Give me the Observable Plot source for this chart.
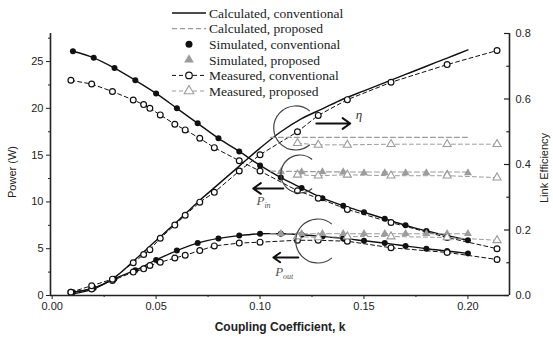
<!DOCTYPE html>
<html><head><meta charset="utf-8">
<script src="https://cdn.jsdelivr.net/npm/d3@7"></script>
<script src="https://cdn.jsdelivr.net/npm/@observablehq/plot@0.6"></script>
<style>body{margin:0;background:#fff}</style>
</head><body><div id="chart"></div>
<script>
// ---- data ----
const kCalc = [0.01,0.02,0.03,0.04,0.05,0.06,0.07,0.08,0.09,0.10,0.11,0.12,0.13,0.14,0.15,0.16,0.17,0.18,0.19,0.20];
const pinCalcConv  = [26.1,25.4,24.3,23.0,21.6,20.0,18.4,16.8,15.4,13.9,12.6,11.5,10.4,9.6,8.9,8.2,7.5,6.9,6.4,5.9];
const poutCalcConv = [0.35,0.8,1.8,2.7,3.8,4.8,5.6,6.1,6.4,6.6,6.6,6.5,6.3,6.1,5.85,5.6,5.3,5.0,4.75,4.5];
const etaCalcConv  = [0.005,0.02,0.055,0.11,0.168,0.225,0.285,0.34,0.395,0.45,0.50,0.54,0.57,0.60,0.625,0.65,0.675,0.70,0.725,0.75];

const kSim = [0.01,0.02,0.03,0.04,0.05,0.06,0.07,0.08,0.09,0.10,0.11,0.12,0.13,0.14,0.15,0.16,0.17,0.18,0.19,0.20];
const pinSimConv  = [26.1,25.4,24.3,23.0,21.6,20.0,18.4,16.8,15.4,13.9,12.6,11.5,10.4,9.6,8.9,8.2,7.5,6.9,6.4,5.9];
const poutSimConv = [0.35,0.8,1.8,2.7,3.8,4.8,5.6,6.1,6.4,6.6,6.6,6.5,6.3,6.1,5.85,5.6,5.3,5.0,4.75,4.5];

const kMeasConv = [0.009,0.019,0.029,0.039,0.044,0.047,0.052,0.059,0.064,0.071,0.078,0.09,0.10,0.118,0.128,0.142,0.163,0.19,0.214];
const pinMeasConv  = [23.0,22.6,21.8,20.9,20.4,20.0,19.3,18.3,17.7,16.8,15.8,14.4,13.3,11.2,10.4,9.2,7.8,6.2,5.0];
const poutMeasConv = [0.35,0.7,1.6,2.5,2.85,3.2,3.55,4.0,4.3,4.8,5.3,5.6,5.7,5.9,5.9,5.8,5.1,4.6,3.85];
const etaMeasConv  = [0.01,0.03,0.05,0.10,0.125,0.14,0.175,0.215,0.245,0.285,0.315,0.38,0.43,0.50,0.55,0.598,0.651,0.705,0.748];

const kCalcProp = [0.105,0.12,0.14,0.16,0.18,0.20];
const pinCalcProp  = [13.3,13.25,13.2,13.2,13.2,13.2];
const poutCalcProp = [6.6,6.6,6.6,6.6,6.6,6.6];
const etaCalcProp  = [0.483,0.483,0.483,0.483,0.483,0.483];

const kSimProp = [0.11,0.12,0.13,0.14,0.15,0.16,0.17,0.18,0.19,0.20];
const pinSimProp  = [13.2,13.2,13.2,13.2,13.1,13.1,13.1,13.1,13.0,13.1];
const poutSimProp = [6.6,6.6,6.6,6.6,6.6,6.6,6.6,6.6,6.6,6.6];

const kMeasProp = [0.118,0.128,0.142,0.163,0.19,0.214];
const pinMeasProp  = [12.9,12.8,12.9,12.8,12.8,12.6];
const poutMeasProp = [6.3,6.2,6.3,6.3,6.2,5.9];
const etaMeasProp  = [0.465,0.46,0.46,0.462,0.462,0.462];

const xTicks = [0, 0.05, 0.10, 0.15, 0.20];
const xMinor = [0.025, 0.075, 0.125, 0.175];
const yTicks = [0, 5, 10, 15, 20, 25];
const yMinor = [2.5, 7.5, 12.5, 17.5, 22.5, 27.5];
const etaTicks = [0, 0.2, 0.4, 0.6, 0.8];
const etaMinor = [0.1, 0.3, 0.5, 0.7];
const legendLabels = ["Calculated, conventional","Calculated, proposed","Simulated, conventional","Simulated, proposed","Measured, conventional","Measured, proposed"];

// ---- build tables ----
const X0 = -0.0008, X1 = 0.22, YMAX = 28, ETA = 28 / 0.8;
const tab = (ks, cols) => ks.map((k, i) => { const o = {k}; for (const [n, a] of Object.entries(cols)) o[n] = a[i]; return o; });
const calcConv = tab(kCalc, {pin: pinCalcConv, pout: poutCalcConv, eta: etaCalcConv});
const simConv = tab(kSim, {pin: pinSimConv, pout: poutSimConv});
const measConv = tab(kMeasConv, {pin: pinMeasConv, pout: poutMeasConv, eta: etaMeasConv});
const calcProp = tab(kCalcProp, {pin: pinCalcProp, pout: poutCalcProp, eta: etaCalcProp});
const simProp = tab(kSimProp, {pin: pinSimProp, pout: poutSimProp});
const measProp = tab(kMeasProp, {pin: pinMeasProp, pout: poutMeasProp, eta: etaMeasProp});

const BLACK = "#111", GRAY = "#9c9c9c", AX = "#222";
const eY = d => d.eta * ETA;

const seriesLines = [];
for (const f of ["pin", "pout", "eta"]) {
  const y = f === "eta" ? eY : f;
  seriesLines.push(Plot.line(calcConv, {x: "k", y, curve: "catmull-rom", stroke: BLACK, strokeWidth: 1.4}));
  seriesLines.push(Plot.line(measConv, {x: "k", y, stroke: BLACK, strokeWidth: 1, strokeDasharray: "4,3"}));
  seriesLines.push(Plot.line(calcProp, {x: "k", y, stroke: GRAY, strokeWidth: 1.2, strokeDasharray: "5,3"}));
  seriesLines.push(Plot.line(measProp, {x: "k", y, stroke: GRAY, strokeWidth: 1, strokeDasharray: "4,3"}));
}
const seriesDots = [];
for (const f of ["pin", "pout"]) {
  seriesDots.push(Plot.dot(simConv, {x: "k", y: f, r: 3, fill: BLACK, stroke: "none"}));
  seriesDots.push(Plot.dot(simProp, {x: "k", y: f, r: 3, symbol: "triangle", fill: GRAY, stroke: "none"}));
}
for (const f of ["pin", "pout", "eta"]) {
  const y = f === "eta" ? eY : f;
  seriesDots.push(Plot.dot(measConv, {x: "k", y, r: 2.9, fill: "white", stroke: BLACK, strokeWidth: 1.2}));
  seriesDots.push(Plot.dot(measProp, {x: "k", y, r: 3, symbol: "triangle", fill: "white", stroke: GRAY, strokeWidth: 1.1}));
}

// annotation arrows (data coordinates)
const arrows = [
  {x1: 0.1271, y1: 18.38, x2: 0.1434, y2: 18.38},
  {x1: 0.1112, y1: 11.44, x2: 0.0967, y2: 11.44},
  {x1: 0.1184, y1: 4.06, x2: 0.1064, y2: 4.06}
];

const plot = Plot.plot({
  width: 553, height: 339,
  marginLeft: 50, marginRight: 44, marginTop: 33, marginBottom: 44,
  style: {fontFamily: "'Liberation Sans', Arial, sans-serif", fontSize: "11px", background: "white", color: AX},
  x: {domain: [X0, X1]},
  y: {domain: [0, YMAX]},
  marks: [
    Plot.axisX({ticks: xTicks, tickFormat: d3.format(".2f"), tickSize: 4, tickPadding: 3, label: null, stroke: AX}),
    Plot.axisX({ticks: xMinor, tickSize: 2, tickFormat: () => "", label: null, stroke: AX}),
    Plot.axisY({ticks: yTicks, tickSize: 4, tickPadding: 3, label: null, stroke: AX, tickFormat: d => String(d)}),
    Plot.axisY({ticks: yMinor, tickSize: 2, tickFormat: () => "", label: null, stroke: AX}),
    Plot.axisY({anchor: "right", ticks: etaTicks.map(e => e * ETA), tickSize: 0, tickPadding: 6, label: null, tickFormat: v => (v / ETA).toFixed(1)}),
    Plot.ruleY(etaTicks.map(e => e * ETA), {x1: X1 - 0.0024, x2: X1, stroke: AX, strokeWidth: 1.2}),
    Plot.ruleY(etaMinor.map(e => e * ETA), {x1: X1 - 0.0013, x2: X1, stroke: AX, strokeWidth: 1.2}),
    ...seriesLines,
    ...seriesDots,
    Plot.arrow(arrows, {x1: "x1", y1: "y1", x2: "x2", y2: "y2", stroke: BLACK, strokeWidth: 2, headLength: 7, headAngle: 70}),
    Plot.ruleX([X0, X1], {stroke: AX, strokeWidth: 1.6}),
    Plot.ruleY([0], {stroke: AX, strokeWidth: 1.6})
  ]
});
document.getElementById("chart").append(plot);

// ---- overlays drawn with the plot's scales ----
const sx = plot.scale("x"), sy = plot.scale("y");
const svg = d3.select(plot);
const g = svg.append("g").attr("text-anchor", "start");

// C-shaped arcs around the curve groups
const arcs = [{k: 0.1174, v: 17.85, r: 22}, {k: 0.1194, v: 12.93, r: 19}, {k: 0.128, v: 5.77, r: 22}];
for (const a of arcs) {
  const cx = sx.apply(a.k), cy = sy.apply(a.v), r = a.r;
  const p = t => [cx + r * Math.cos(t * Math.PI / 180), cy + r * Math.sin(t * Math.PI / 180)];
  const [s0, s1] = [p(50), p(310)];
  g.append("path").attr("d", `M${s0[0]},${s0[1]} A${r},${r} 0 1 1 ${s1[0]},${s1[1]}`)
    .attr("fill", "none").attr("stroke", "#444").attr("stroke-width", 1.2);
}
// annotation labels
const serif = "'Liberation Serif', 'Times New Roman', serif";
g.append("text").attr("x", sx.apply(0.1463)).attr("y", sy.apply(18.8)).attr("font-family", serif)
  .attr("font-style", "italic").attr("font-size", 13).attr("fill", "#333").text("η");
const sub = (k, v, s) => {
  const t = g.append("text").attr("x", sx.apply(k)).attr("y", sy.apply(v)).attr("font-family", serif)
    .attr("font-style", "italic").attr("font-size", 13).attr("fill", "#555");
  t.append("tspan").text("P");
  t.append("tspan").attr("font-size", 8).attr("dy", 3).text(s);
};
sub(0.0985, 9.6, "in");
sub(0.1075, 2.0, "out");

// axis titles
const t = svg.append("g").attr("text-anchor", "middle").attr("fill", AX);
t.append("text").attr("transform", "translate(16,172) rotate(-90)").attr("font-size", 11).text("Power (W)");
t.append("text").attr("transform", "translate(548,168) rotate(-90)").attr("font-size", 11).text("Link Efficiency");
t.append("text").attr("x", 280).attr("y", 331).attr("font-size", 12).attr("font-weight", "bold").text("Coupling Coefficient, k");

// legend
const lg = svg.append("g").attr("text-anchor", "start");
const lx0 = 172, lx1 = 206, lcx = 189, ltx = 209;
legendLabels.forEach((lab, i) => {
  const y = 13 + i * 15.6;
  const row = lg.append("g");
  if (i === 0) row.append("line").attr("x1", lx0).attr("x2", lx1).attr("y1", y).attr("y2", y).attr("stroke", BLACK).attr("stroke-width", 1.5);
  if (i === 1) row.append("line").attr("x1", lx0).attr("x2", lx1).attr("y1", y).attr("y2", y).attr("stroke", GRAY).attr("stroke-width", 1.3).attr("stroke-dasharray", "5,3");
  if (i === 4) row.append("line").attr("x1", lx0).attr("x2", lx1).attr("y1", y).attr("y2", y).attr("stroke", BLACK).attr("stroke-width", 1).attr("stroke-dasharray", "4,3");
  if (i === 5) row.append("line").attr("x1", lx0).attr("x2", lx1).attr("y1", y).attr("y2", y).attr("stroke", GRAY).attr("stroke-width", 1).attr("stroke-dasharray", "4,3");
  if (i === 2) row.append("circle").attr("cx", lcx).attr("cy", y).attr("r", 3.5).attr("fill", BLACK);
  if (i === 4) row.append("circle").attr("cx", lcx).attr("cy", y).attr("r", 3.3).attr("fill", "white").attr("stroke", BLACK).attr("stroke-width", 1.2);
  if (i === 3 || i === 5) row.append("path").attr("transform", `translate(${lcx},${y})`)
    .attr("d", d3.symbol(d3.symbolTriangle, Math.PI * 3.6 * 3.6)())
    .attr("fill", i === 3 ? GRAY : "white").attr("stroke", i === 3 ? "none" : GRAY).attr("stroke-width", 1.1);
  row.append("text").attr("x", ltx).attr("y", y).attr("dy", "0.35em").attr("font-family", serif)
    .attr("font-size", 13.5).attr("fill", "#222").text(lab);
});
</script></body></html>
